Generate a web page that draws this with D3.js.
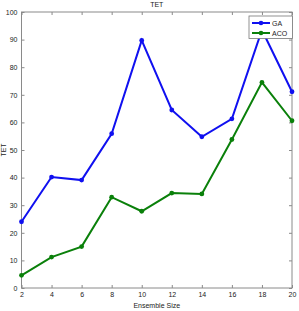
<!DOCTYPE html>
<html>
<head>
<meta charset="utf-8">
<script src="https://cdn.jsdelivr.net/npm/d3@7"></script>
<style>
  body { margin: 0; background: #fff; }
  text { font-family: 'Liberation Sans', Arial, sans-serif; fill: #222; }
</style>
</head>
<body>
<svg id="chart" width="299" height="311"></svg>
<script>
const ensembleSizes = [2, 4, 6, 8, 10, 12, 14, 16, 18, 20]
const gaValues = [24.0, 40.2, 39.1, 55.9, 89.7, 64.5, 54.8, 61.3, 93.5, 71.1]
const acoValues = [4.6, 11.2, 15.0, 32.9, 27.8, 34.4, 34.1, 53.8, 74.5, 60.6]
const xTicks = [2, 4, 6, 8, 10, 12, 14, 16, 18, 20]
const yTicks = [0, 10, 20, 30, 40, 50, 60, 70, 80, 90, 100]

const series = [
  { name: 'GA', color: '#1010f0', values: gaValues },
  { name: 'ACO', color: '#0a800a', values: acoValues },
]

const margin = { top: 12, right: 7, bottom: 23, left: 21.5 }
const width = 299
const height = 311

const svg = d3.select('#chart')

const x = d3.scaleLinear().domain([2, 20]).range([margin.left, width - margin.right])
const y = d3.scaleLinear().domain([0, 100]).range([height - margin.bottom, margin.top])

const axisColor = '#8a8a8a'

// frame
svg.append('rect')
  .attr('x', x(2)).attr('y', y(100))
  .attr('width', x(20) - x(2)).attr('height', y(0) - y(100))
  .attr('fill', 'none').attr('stroke', axisColor).attr('stroke-width', 1)

const styleAxis = (g) => {
  g.select('.domain').remove()
  g.selectAll('line').attr('stroke', axisColor)
  g.selectAll('text').style('font-size', '7px').attr('fill', '#222')
}

svg.append('g')
  .attr('transform', `translate(0,${y(0)})`)
  .call(d3.axisBottom(x).tickValues(xTicks).tickSizeInner(-3).tickSizeOuter(0).tickPadding(4))
  .call(styleAxis)

svg.append('g')
  .attr('transform', `translate(0,${y(100)})`)
  .call(d3.axisTop(x).tickValues(xTicks).tickSizeInner(-3).tickSizeOuter(0).tickFormat(''))
  .call(styleAxis)

svg.append('g')
  .attr('transform', `translate(${x(2)},0)`)
  .call(d3.axisLeft(y).tickValues(yTicks).tickSizeInner(-3).tickSizeOuter(0).tickPadding(4))
  .call(styleAxis)

svg.append('g')
  .attr('transform', `translate(${x(20)},0)`)
  .call(d3.axisRight(y).tickValues(yTicks).tickSizeInner(-3).tickSizeOuter(0).tickFormat(''))
  .call(styleAxis)

const line = d3.line()
  .x((d, i) => x(ensembleSizes[i]))
  .y((d) => y(d))

series.forEach((s) => {
  svg.append('path')
    .datum(s.values)
    .attr('d', line)
    .attr('fill', 'none')
    .attr('stroke', s.color)
    .attr('stroke-width', 2)

  svg.append('g')
    .selectAll('circle')
    .data(s.values)
    .join('circle')
    .attr('cx', (d, i) => x(ensembleSizes[i]))
    .attr('cy', (d) => y(d))
    .attr('r', 2.4)
    .attr('fill', s.color)
})

// legend
const legend = svg.append('g').attr('transform', `translate(249,16)`)
legend.append('rect')
  .attr('width', 43.5).attr('height', 22.5)
  .attr('fill', '#fff').attr('stroke', '#777').attr('stroke-width', 0.8)

series.forEach((s, i) => {
  const row = legend.append('g').attr('transform', `translate(0,${7 + i * 10})`)
  row.append('line')
    .attr('x1', 3).attr('x2', 21).attr('y1', 0).attr('y2', 0)
    .attr('stroke', s.color).attr('stroke-width', 2)
  row.append('circle')
    .attr('cx', 12).attr('cy', 0).attr('r', 2.3)
    .attr('fill', s.color)
  row.append('text')
    .attr('x', 23).attr('y', 2.5)
    .style('font-size', '7px')
    .text(s.name)
})

// titles
svg.append('text')
  .attr('x', (x(2) + x(20)) / 2).attr('y', 7)
  .attr('text-anchor', 'middle')
  .style('font-size', '7px')
  .text('TET')

svg.append('text')
  .attr('x', (x(2) + x(20)) / 2).attr('y', 308)
  .attr('text-anchor', 'middle')
  .style('font-size', '7px')
  .text('Ensemble Size')

svg.append('text')
  .attr('transform', `translate(6,${(y(0) + y(100)) / 2}) rotate(-90)`)
  .attr('text-anchor', 'middle')
  .style('font-size', '7px')
  .text('TET')
</script>
</body>
</html>
